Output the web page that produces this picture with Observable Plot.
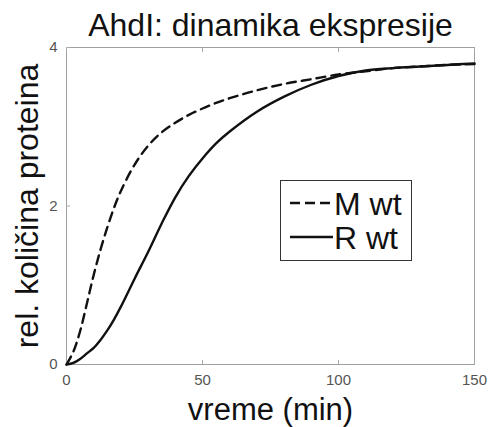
<!DOCTYPE html>
<html><head><meta charset="utf-8">
<script src="https://cdn.jsdelivr.net/npm/d3@7"></script>
<script src="https://cdn.jsdelivr.net/npm/@observablehq/plot@0.6"></script>
<style>
body{margin:0;background:#fff;font-family:"Liberation Sans",Arial,sans-serif;}
#wrap{position:relative;width:492px;height:427px;overflow:hidden;}
#legend{position:absolute;left:280px;top:180px;width:130px;height:79px;border:1.5px solid #333;background:#fff;}
#legend svg{position:absolute;left:0;top:0;}
</style></head><body><div id="wrap"></div>
<script>
const titleText = "AhdI: dinamika ekspresije";
const xLabel = "vreme (min)";
const yLabel = "rel. količina proteina";
const seriesNames = ["M wt", "R wt"];
const xTicks = [0, 50, 100, 150];
const yTicks = [0, 2, 4];
const time = [0, 2.5, 5, 7.5, 10, 12.5, 15, 17.5, 20, 25, 30, 35, 40, 45, 50, 55, 60, 70, 80, 90, 100, 110, 120, 130, 140, 150];
const mWt = [0, 0.16, 0.42, 0.77, 1.13, 1.45, 1.73, 1.98, 2.19, 2.52, 2.76, 2.93, 3.05, 3.15, 3.23, 3.30, 3.36, 3.46, 3.54, 3.60, 3.66, 3.70, 3.74, 3.76, 3.78, 3.79];
const rWt = [0, 0.02, 0.07, 0.14, 0.21, 0.31, 0.43, 0.57, 0.73, 1.08, 1.42, 1.78, 2.11, 2.38, 2.60, 2.79, 2.94, 3.19, 3.38, 3.53, 3.64, 3.71, 3.74, 3.76, 3.78, 3.80];

const dataM = time.map((t, i) => ({t, v: mWt[i]}));
const dataR = time.map((t, i) => ({t, v: rWt[i]}));
const font = "Liberation Sans, Arial, sans-serif";

const chart = Plot.plot({
  width: 492, height: 427,
  marginLeft: 66, marginRight: 18, marginTop: 47, marginBottom: 63,
  style: {fontFamily: font, background: "#fff", overflow: "visible"},
  x: {domain: [0, 150]},
  y: {domain: [0, 4]},
  marks: [
    Plot.frame({stroke: "#a0a0a0"}),
    Plot.axisX({ticks: xTicks, tickSize: 0, tickPadding: 10, fontSize: 15, color: "#555", label: null}),
    Plot.axisX({ticks: xTicks, tickSize: -4, tickFormat: () => "", stroke: "#aaa", label: null}),
    Plot.axisX({ticks: xTicks, anchor: "top", tickSize: -4, tickFormat: () => "", stroke: "#aaa", label: null}),
    Plot.axisY({ticks: yTicks, tickSize: 0, tickPadding: 9, fontSize: 15, color: "#555", label: null, tickFormat: d3.format("d")}),
    Plot.axisY({ticks: yTicks, tickSize: -4, tickFormat: () => "", stroke: "#aaa", label: null}),
    Plot.line(dataM, {x: "t", y: "v", stroke: "#111", strokeWidth: 2.4, strokeDasharray: "9,6", curve: "catmull-rom"}),
    Plot.line(dataR, {x: "t", y: "v", stroke: "#111", strokeWidth: 2.4, curve: "catmull-rom"}),
    Plot.text([titleText], {frameAnchor: "top", textAnchor: "middle", lineAnchor: "bottom", dy: -12, fontSize: 32, fill: "#111"}),
    Plot.text([xLabel], {frameAnchor: "bottom", textAnchor: "middle", lineAnchor: "bottom", dy: 55, fontSize: 31, fill: "#111"}),
    Plot.text([yLabel], {frameAnchor: "left", textAnchor: "middle", lineAnchor: "bottom", rotate: -90, dx: -29, fontSize: 32, fill: "#111"})
  ]
});

const wrap = document.getElementById("wrap");
wrap.appendChild(chart);

const legend = document.createElement("div");
legend.id = "legend";
const ns = "http://www.w3.org/2000/svg";
const lsvg = document.createElementNS(ns, "svg");
lsvg.setAttribute("width", 130); lsvg.setAttribute("height", 79);
seriesNames.forEach((name, i) => {
  const cy = 22 + i * 34;
  const ln = document.createElementNS(ns, "line");
  ln.setAttribute("x1", 9); ln.setAttribute("x2", 52);
  ln.setAttribute("y1", cy); ln.setAttribute("y2", cy);
  ln.setAttribute("stroke", "#111"); ln.setAttribute("stroke-width", 2.4);
  if (i === 0) ln.setAttribute("stroke-dasharray", "10,5");
  lsvg.appendChild(ln);
  const tx = document.createElementNS(ns, "text");
  tx.setAttribute("x", 53); tx.setAttribute("y", cy + 12);
  tx.setAttribute("font-size", 32); tx.setAttribute("font-family", font);
  tx.setAttribute("fill", "#111");
  tx.textContent = name;
  lsvg.appendChild(tx);
});
legend.appendChild(lsvg);
wrap.appendChild(legend);
</script>
</body></html>
